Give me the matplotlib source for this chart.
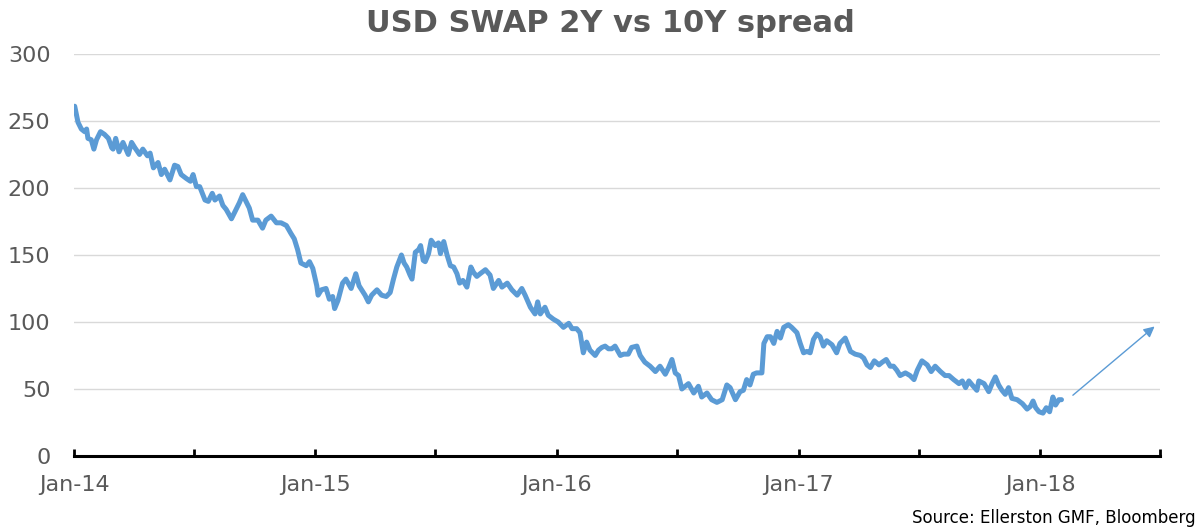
import matplotlib
matplotlib.use("Agg")
import matplotlib.pyplot as plt
import matplotlib.dates as mdates
import pandas as pd

# USD swap 2Y vs 10Y spread (bp)
days_2014 = ['01-02', '01-07', '01-12', '01-17', '01-20', '01-22', '01-27', '01-31', '02-04', '02-10',
             '02-16', '02-22', '02-27', '03-01', '03-05', '03-10', '03-16', '03-24', '03-29', '04-03',
             '04-10', '04-15', '04-22', '04-26', '05-01', '05-08', '05-13', '05-18', '05-26', '06-02',
             '06-07', '06-12', '06-20', '06-26', '06-30', '07-05', '07-10', '07-18', '07-23', '07-29',
             '08-02', '08-09', '08-14', '08-19', '08-27', '09-03', '09-08', '09-13', '09-18', '09-23',
             '09-28', '10-06', '10-13', '10-18', '10-26', '11-03', '11-10', '11-18', '11-25', '11-30',
             '12-05', '12-10', '12-18', '12-23', '12-28']
spread_2014 = [261, 249, 244, 242, 244, 237, 236, 229, 236, 242,
               240, 237, 230, 229, 237, 227, 234, 225, 234, 230,
               225, 229, 224, 226, 215, 219, 210, 214, 206, 217,
               216, 210, 207, 205, 210, 201, 201, 191, 190, 196,
               191, 194, 187, 184, 177, 184, 189, 195, 190, 185,
               176, 176, 170, 176, 179, 174, 174, 172, 166, 162,
               154, 144, 142, 145, 140]

days_2015 = ['01-03', '01-05', '01-10', '01-17', '01-22', '01-27', '01-30', '02-04', '02-11', '02-16',
             '02-24', '03-03', '03-08', '03-17', '03-22', '03-27', '04-04', '04-11', '04-18', '04-24',
             '04-29', '05-04', '05-11', '05-15', '05-19', '05-24', '05-27', '06-01', '06-06', '06-09',
             '06-13', '06-16', '06-21', '06-25', '07-01', '07-06', '07-09', '07-14', '07-19', '07-24',
             '07-29', '08-03', '08-07', '08-12', '08-18', '08-24', '08-28', '09-02', '09-07', '09-15',
             '09-22', '09-27', '10-05', '10-10', '10-18', '10-25', '11-02', '11-09', '11-14', '11-22',
             '11-29', '12-03', '12-07', '12-14', '12-19', '12-27']
spread_2015 = [127, 120, 124, 125, 117, 119, 110, 116, 129, 132,
               125, 136, 127, 120, 115, 120, 124, 120, 119, 122,
               132, 141, 150, 144, 141, 135, 132, 152, 154, 157,
               146, 145, 151, 161, 157, 159, 151, 160, 150, 142,
               141, 136, 129, 131, 126, 141, 137, 134, 136, 139,
               135, 125, 131, 126, 129, 124, 120, 125, 120, 111,
               106, 115, 106, 111, 105, 102]

days_2016 = ['01-03', '01-11', '01-19', '01-24', '01-31', '02-05', '02-10', '02-15', '02-20', '02-28',
             '03-04', '03-09', '03-14', '03-19', '03-24', '03-29', '04-06', '04-11', '04-18', '04-23',
             '05-01', '05-06', '05-13', '05-21', '05-29', '06-05', '06-13', '06-18', '06-23', '06-28',
             '07-03', '07-08', '07-13', '07-18', '07-26', '08-02', '08-07', '08-15', '08-22', '08-30',
             '09-07', '09-14', '09-19', '09-27', '10-04', '10-09', '10-14', '10-19', '10-24', '10-29',
             '11-06', '11-09', '11-14', '11-19', '11-24', '11-29', '12-04', '12-09', '12-16', '12-21',
             '12-29']
spread_2016 = [100, 96, 99, 95, 95, 92, 77, 85, 79, 75,
               79, 81, 82, 80, 80, 82, 75, 76, 76, 81,
               82, 75, 70, 67, 63, 67, 61, 66, 72, 62,
               60, 50, 52, 54, 47, 52, 44, 47, 42, 40,
               42, 53, 51, 42, 48, 49, 57, 53, 61, 62,
               62, 84, 89, 89, 84, 93, 88, 96, 98, 96,
               92]

days_2017 = ['01-03', '01-08', '01-13', '01-18', '01-23', '01-28', '02-02', '02-07', '02-12', '02-20',
             '02-27', '03-04', '03-12', '03-20', '03-27', '04-04', '04-09', '04-14', '04-19', '04-25',
             '05-02', '05-07', '05-13', '05-19', '05-24', '05-29', '06-03', '06-11', '06-18', '06-24',
             '06-29', '07-06', '07-14', '07-20', '07-26', '08-03', '08-10', '08-16', '08-23', '08-31',
             '09-05', '09-10', '09-15', '09-20', '09-27', '09-30', '10-08', '10-15', '10-20', '10-25',
             '10-30', '11-04', '11-09', '11-14', '11-19', '11-27', '12-05', '12-12', '12-17', '12-21',
             '12-25', '12-30']
spread_2017 = [84, 77, 78, 77, 87, 91, 89, 82, 86, 83,
               77, 84, 88, 78, 76, 75, 73, 68, 66, 71,
               68, 70, 72, 67, 67, 64, 60, 62, 60, 57,
               64, 71, 68, 63, 67, 63, 60, 60, 57, 54,
               56, 51, 56, 53, 49, 56, 54, 48, 54, 59,
               53, 49, 46, 51, 43, 42, 39, 35, 37, 41,
               36, 33]

days_2018 = ['01-05', '01-10', '01-15', '01-20', '01-24', '01-29', '02-02']
spread_2018 = [32, 36, 33, 44, 38, 42, 42]

# arrow pointing to a higher spread
arrow_from = ('2018-02-16', 44)
arrow_to = ('2018-06-26', 98)

y_ticks = [0, 50, 100, 150, 200, 250, 300]

years = [2014, 2015, 2016, 2017, 2018]
all_days = [days_2014, days_2015, days_2016, days_2017, days_2018]
all_vals = [spread_2014, spread_2015, spread_2016, spread_2017, spread_2018]

dates, spread = [], []
for yr, dd, vv in zip(years, all_days, all_vals):
    dates += [f"{yr}-{d}" for d in dd]
    spread += vv
dates = pd.to_datetime(dates)

blue = "#5B9BD5"
grey = "#595959"

fig = plt.figure(figsize=(12, 5.28), dpi=100)
ax = fig.add_axes([0.0617, 0.1364, 0.905, 0.7614])

ax.plot(dates, spread, color=blue, lw=3.6, solid_joinstyle="round", solid_capstyle="round", zorder=3)

ax.annotate("", xy=(pd.Timestamp(arrow_to[0]), arrow_to[1]),
            xytext=(pd.Timestamp(arrow_from[0]), arrow_from[1]),
            arrowprops=dict(arrowstyle="-|>", color=blue, lw=1, mutation_scale=16))

ax.set_xlim(pd.Timestamp("2014-01-01"), pd.Timestamp("2018-07-01"))
ax.set_ylim(0, 300)
ax.set_yticks(y_ticks)
ax.yaxis.grid(True, color="#D9D9D9", lw=1)
ax.set_axisbelow(True)

ax.xaxis.set_major_locator(mdates.YearLocator(month=1, day=1))
ax.xaxis.set_major_formatter(mdates.DateFormatter("%b-%y"))
ax.xaxis.set_minor_locator(mdates.MonthLocator(bymonth=7))

for s in ["top", "right", "left"]:
    ax.spines[s].set_visible(False)
ax.spines["bottom"].set_linewidth(2.2)
ax.spines["bottom"].set_color("black")

ax.tick_params(axis="y", length=0, pad=17, labelsize=16, labelcolor=grey)
ax.tick_params(axis="x", which="both", direction="in", length=5, width=2, color="black",
               pad=14, labelsize=16, labelcolor=grey)

fig.text(0.509, 0.956, "USD SWAP 2Y vs 10Y spread", ha="center", va="center",
         fontsize=22, fontweight="bold", color=grey)
fig.text(0.996, 0.018, "Source: Ellerston GMF, Bloomberg", ha="right", va="center",
         fontsize=12, color="black")

fig.savefig("out.png", dpi=100)
